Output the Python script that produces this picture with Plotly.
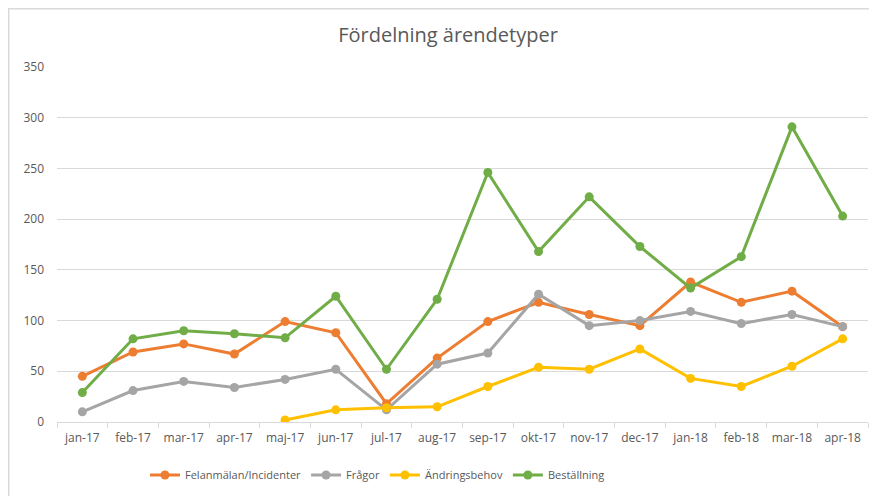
import plotly.graph_objects as go

months = ["jan-17", "feb-17", "mar-17", "apr-17", "maj-17", "jun-17", "jul-17", "aug-17",
          "sep-17", "okt-17", "nov-17", "dec-17", "jan-18", "feb-18", "mar-18", "apr-18"]

felanmalan = [45, 69, 77, 67, 99, 88, 18, 63, 99, 118, 106, 95, 138, 118, 129, 94]
fragor = [10, 31, 40, 34, 42, 52, 12, 57, 68, 126, 95, 100, 109, 97, 106, 94]
andringsbehov = [None, None, None, None, 2, 12, 14, 15, 35, 54, 52, 72, 43, 35, 55, 82]
bestallning = [29, 82, 90, 87, 83, 124, 52, 121, 246, 168, 222, 173, 132, 163, 291, 203]

series = [
    ("Felanmälan/Incidenter", felanmalan, "#ED7D31"),
    ("Frågor", fragor, "#A5A5A5"),
    ("Ändringsbehov", andringsbehov, "#FFC000"),
    ("Beställning", bestallning, "#70AD47"),
]

fig = go.Figure()
for name, vals, col in series:
    fig.add_trace(go.Scatter(
        x=months, y=vals, name=name, mode="lines+markers",
        line=dict(color=col, width=3),
        marker=dict(color=col, size=9),
        connectgaps=False,
    ))

# page has an 8px body margin; figure coordinates are page coordinates minus 8
OFF = 8
W, H = 869, 488
L, R, T, B = 57 - OFF, 9, 67 - OFF, 74
pw, ph = W - L - R, H - T - B

def px_x(p):
    return (p - OFF - L) / pw

def px_y(p):
    return (H - B - (p - OFF)) / ph

fig.update_layout(
    width=W, height=H,
    margin=dict(l=L, r=R, t=T, b=B, autoexpand=False),
    paper_bgcolor="white", plot_bgcolor="white",
    font=dict(family="Open Sans, Noto Sans, sans-serif", color="#595959", size=12),
    title=dict(text="Fördelning ärendetyper", x=px_x(448), xref="paper", xanchor="center",
               y=1 - (35 - OFF) / H, yanchor="middle",
               font=dict(size=20, color="#595959")),
    showlegend=True,
    legend=dict(orientation="h", x=px_x(145), xanchor="left", y=px_y(475), yanchor="middle",
                font=dict(size=11, color="#595959"), itemwidth=30, traceorder="normal"),
    xaxis=dict(type="category", range=[-0.5, 15.5], showgrid=False, showline=True,
               linecolor="#D9D9D9", linewidth=1,
               ticks="outside", tickson="boundaries", ticklen=5, tickcolor="#D9D9D9",
               tickangle=0, automargin=False, ticklabelstandoff=5,
               tickfont=dict(size=12, color="#595959"), fixedrange=True),
    yaxis=dict(range=[0, 350], dtick=50, showgrid=True, gridcolor="#D9D9D9", gridwidth=1,
               zeroline=False, showline=False, ticks="", ticklabelstandoff=12, automargin=False,
               tickfont=dict(size=12, color="#595959"), fixedrange=True),
    shapes=[dict(type="rect", xref="paper", yref="paper",
                 x0=px_x(8.7), x1=px_x(W + 30), y0=px_y(H + 40), y1=px_y(8.7),
                 line=dict(color="#D9D9D9", width=1.5), fillcolor="rgba(0,0,0,0)", layer="below")],
)

fig.write_html("out.html")
